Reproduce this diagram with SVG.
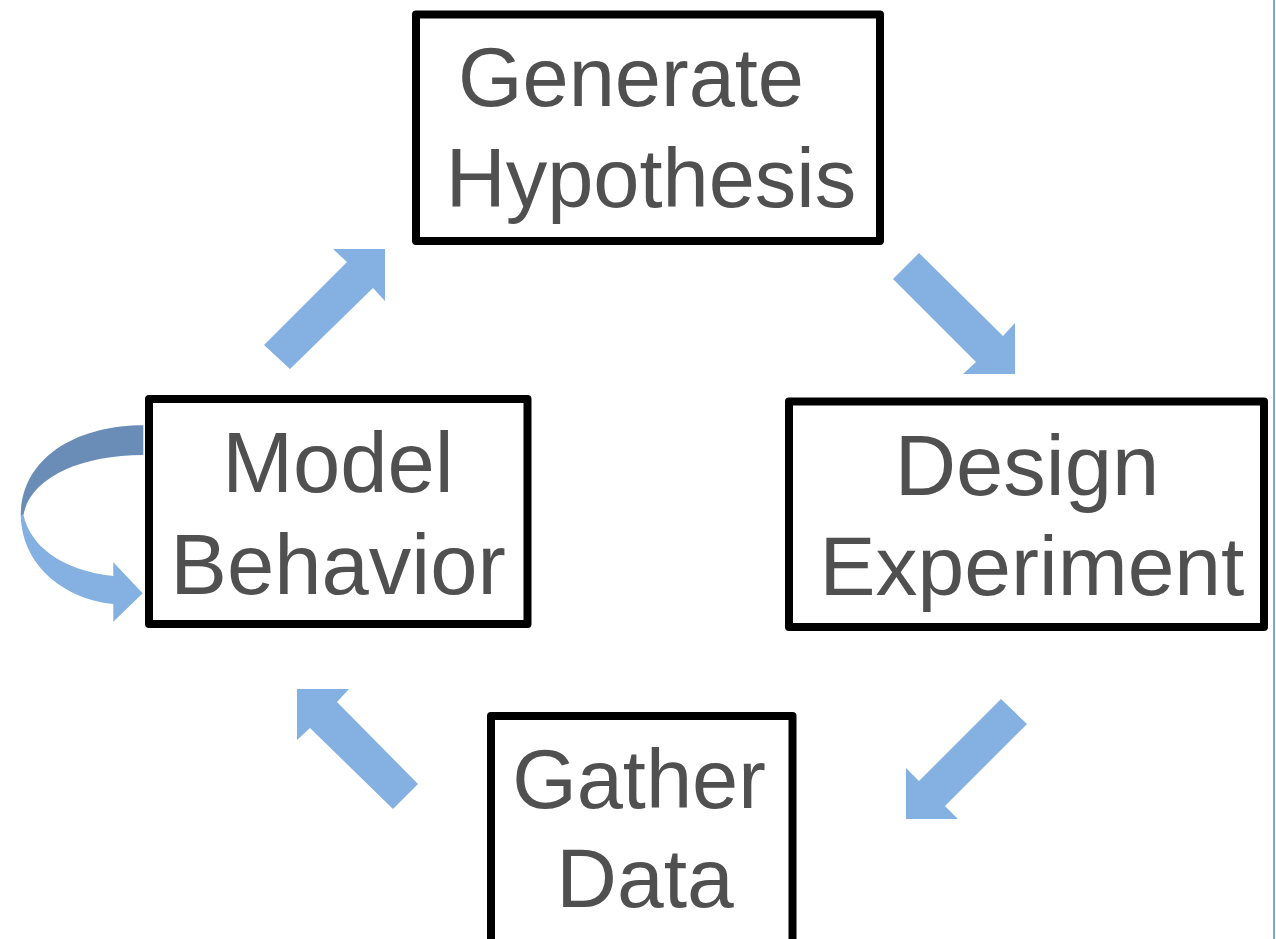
<svg xmlns="http://www.w3.org/2000/svg" width="1276" height="939" viewBox="0 0 1276 939">
<style>
.box{fill:#ffffff;stroke:#000000;stroke-width:8;stroke-linejoin:round}
.lbl{font-family:"Liberation Sans",Arial,sans-serif;fill:#505050;text-anchor:middle}
.arr{fill:#84b1e2}
.arrd{fill:#6a8db8}
</style>
<rect x="0" y="0" width="1276" height="939" fill="#ffffff"/>
<line x1="1274" y1="0" x2="1274" y2="939" stroke="#7aa7d9" stroke-width="2"/>
<g id="connectors">
<polygon class="arr" points="264,345 347,262 333,249 385,249 385,301 373,288 290,369"/>
<polygon class="arr" points="893,279 919,253 1003,336 1015,323 1015,374 963,374 976,362"/>
<polygon class="arr" points="1001,699 1027,724 945,806 958,819 906,819 906,768 919,781"/>
<polygon class="arr" points="297,689 349,689 337,702 418,784 393,809 310,728 297,740"/>
<path class="arrd" d="M143.3,425.3 C80,425.3 22,455 20.7,515 L23.5,515 C30,478 80,455 143.3,455 Z"/>
<path class="arr" d="M20.7,515 C22,570 70,600 113.3,604 L113.3,621.7 L142.7,593.3 L113.3,562.3 L113.3,576 C60,570 30,545 23.5,515 Z"/>
</g>
<g id="node-generate">
<rect class="box" x="416" y="14.5" width="464" height="226.5"/>
<text class="lbl" font-size="83" x="631" y="106">Generate</text>
<text class="lbl" font-size="83" x="651" y="207">Hypothesis</text>
</g>
<g id="node-model">
<rect class="box" x="149" y="399" width="378.5" height="225"/>
<text class="lbl" font-size="85" x="338" y="492">Model</text>
<text class="lbl" font-size="85" x="338" y="593.5">Behavior</text>
</g>
<g id="node-design">
<rect class="box" x="789" y="401.5" width="475" height="225.5"/>
<text class="lbl" font-size="85" x="1027" y="495">Design</text>
<text class="lbl" font-size="84" x="1032" y="595">Experiment</text>
</g>
<g id="node-gather">
<rect class="box" x="491" y="716" width="301.5" height="240"/>
<text class="lbl" font-size="83" x="639" y="808">Gather</text>
<text class="lbl" font-size="84" x="645" y="907">Data</text>
</g>
</svg>
